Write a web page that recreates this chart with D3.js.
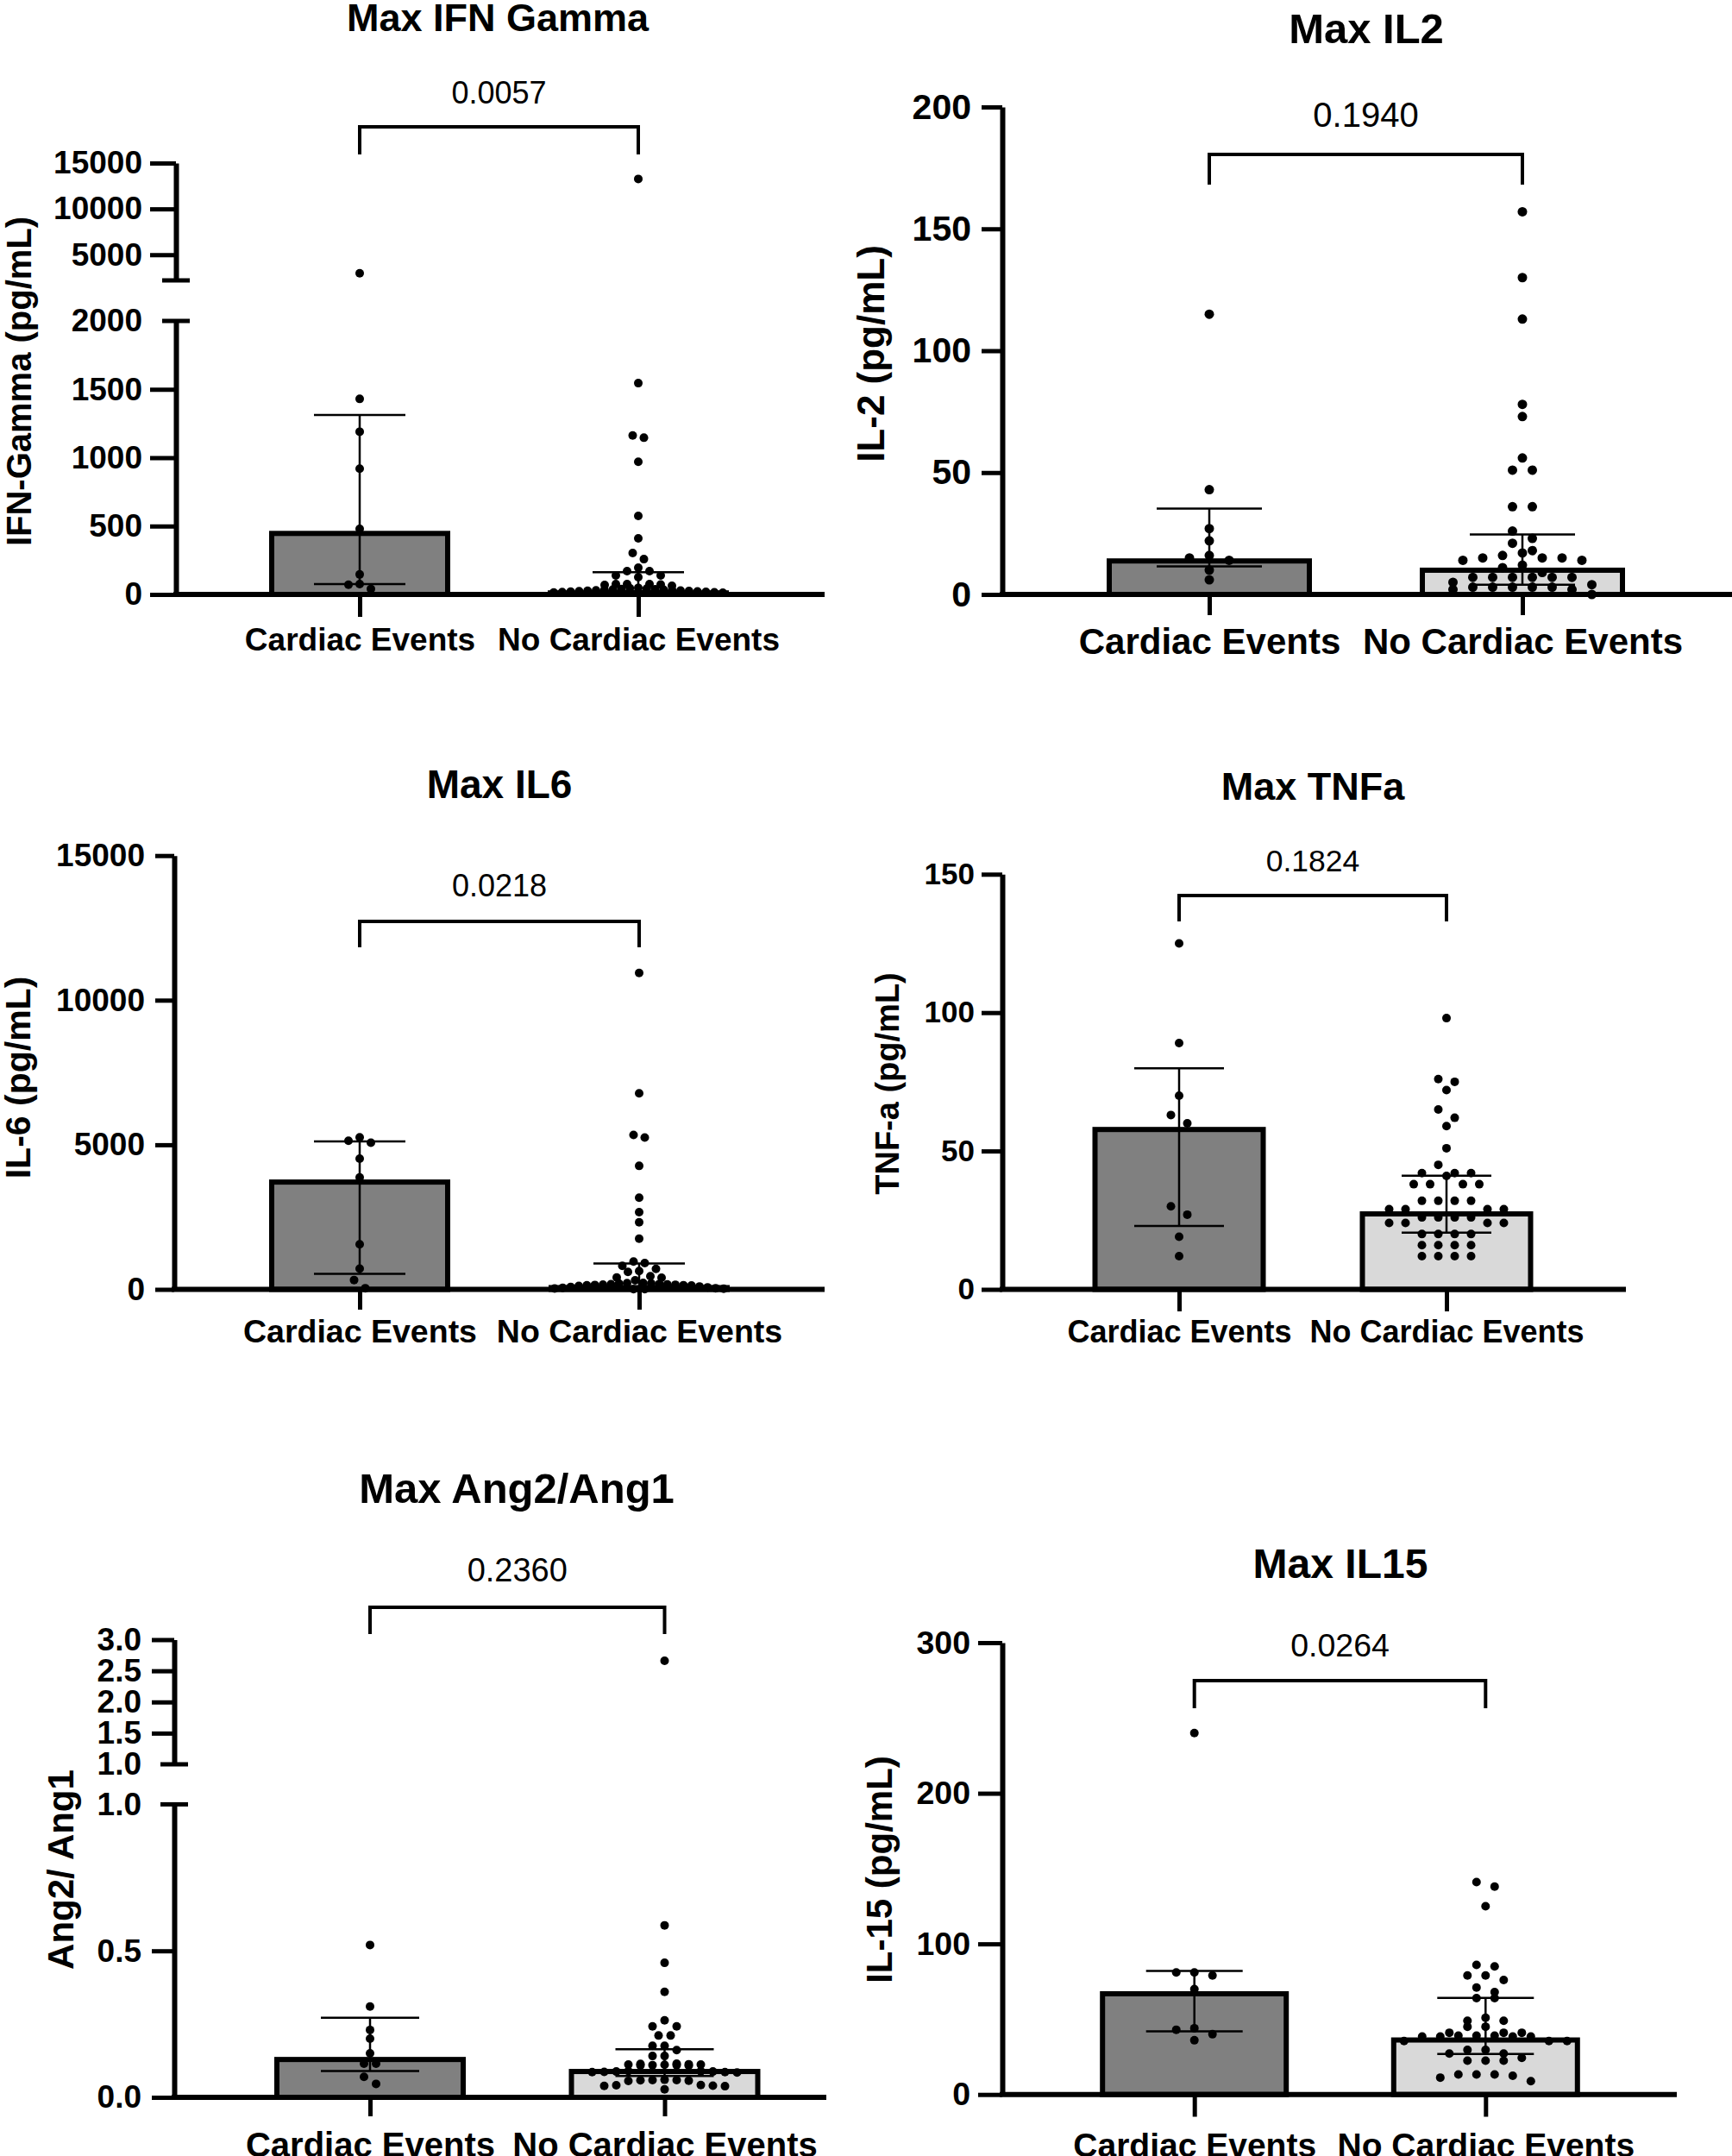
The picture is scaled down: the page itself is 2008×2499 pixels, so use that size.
<!DOCTYPE html>
<html>
<head>
<meta charset="utf-8">
<script src="https://cdn.jsdelivr.net/npm/d3@7"></script>
<style>
  body { margin: 0; background: #fff; }
</style>
</head>
<body>
<svg id="chart" width="2008" height="2499"></svg>
<script>
// categories shared by every panel
var categories = ["Cardiac Events", "No Cardiac Events"];

// IFN gamma
var ifnCardiac = [2970, 1430, 1190, 920, 480, 146, 76, 71, 40];
var ifnNoCardiac = [13270, 1545, 1162, 1146, 970, 574, 410, 303, 258, 195, 170, 170, 139, 139, 126,
  76, 76, 76, 72, 69, 63, 48, 45, 42, 40, 38, 36, 35, 33, 31, 30, 28, 27, 25, 24, 22, 20, 19, 17, 15, 14, 12];
var ifnBars = [465, 30];
var ifnLow = [75, 25];
var ifnHigh = [1313, 162];
var ifnTicksLow = [0, 500, 1000, 1500, 2000];
var ifnTicksHigh = [5000, 10000, 15000];

// IL2
var il2Cardiac = [115, 43, 27, 22, 16, 15, 14, 10, 6];
var il2NoCardiac = [157, 130, 113, 78, 73, 56, 51, 51, 36, 36, 26, 23, 21, 18, 17, 16, 15, 15, 15, 14,
  14, 12, 11, 9, 7, 7, 7, 7, 7, 7, 5, 4, 3, 3, 3, 3, 3, 2, 2, 0];
var il2Bars = [14.8, 11];
var il2Low = [11.5, 4];
var il2High = [35.2, 24.6];
var il2Ticks = [0, 50, 100, 150, 200];

// IL6
var il6Cardiac = [5260, 5140, 5070, 4520, 3870, 1560, 715, 324, 40];
var il6NoCardiac = [10943, 6780, 5340, 5250, 4270, 3168, 2670, 2321, 1754, 960, 910, 811, 710, 632, 602,
  453, 412, 403, 313, 224, 215, 205, 198, 190, 180, 172, 165, 160, 152, 145, 140, 135, 120, 100, 85, 70,
  55, 40, 30, 20, 10, 5];
var il6Bars = [3800, 150];
var il6Low = [536, 30];
var il6High = [5118, 894];
var il6Ticks = [0, 5000, 10000, 15000];

// TNF alpha
var tnfCardiac = [125, 89, 70, 63, 60, 30, 27, 19, 12];
var tnfNoCardiac = [98, 76, 75, 72, 65, 62, 59, 51, 45, 42, 42, 42, 41, 38, 38, 38, 38, 32, 32, 32, 32,
  29, 29, 29, 29, 26, 26, 26, 26, 24, 24, 24, 24, 20, 20, 20, 20, 16, 16, 16, 16, 12, 12, 12, 12];
var tnfBars = [58.7, 28.2];
var tnfLow = [22.9, 20.5];
var tnfHigh = [79.9, 41.1];
var tnfTicks = [0, 50, 100, 150];

// Ang2/Ang1
var angCardiac = [0.52, 0.31, 0.23, 0.2, 0.15, 0.115, 0.115, 0.07, 0.046];
var angNoCardiac = [2.66, 0.587, 0.459, 0.36, 0.263, 0.242, 0.242, 0.211, 0.211, 0.176, 0.176, 0.161,
  0.141, 0.141, 0.115, 0.114, 0.113, 0.112, 0.112, 0.111, 0.11, 0.11, 0.109, 0.108, 0.09, 0.089, 0.088,
  0.088, 0.087, 0.086, 0.086, 0.085, 0.06, 0.059, 0.059, 0.058, 0.057, 0.056, 0.042, 0.041, 0.04, 0.039,
  0.038, 0.027];
var angBars = [0.138, 0.097];
var angLow = [0.09, 0.073];
var angHigh = [0.272, 0.164];
var angTicksLow = [0, 0.5, 1];
var angTicksHigh = [1, 1.5, 2, 2.5, 3];

// IL15
var il15Cardiac = [240, 81, 81, 79, 70, 44, 43, 40, 36];
var il15NoCardiac = [141, 138, 125, 86, 85, 79, 79, 76, 71, 68, 64, 64, 51, 49, 49, 45, 45, 41, 41, 41,
  39, 39, 39, 38.5, 38.5, 38.5, 38.5, 35.5, 35.5, 35.5, 29.6, 29.6, 27.2, 27.2, 24.3, 22.5, 22.5, 22.5,
  13.3, 13.3, 13.3, 12.4, 11.2, 8.9];
var il15Bars = [68.6, 37.9];
var il15Low = [42, 26.9];
var il15High = [82, 64.2];
var il15Ticks = [0, 100, 200, 300];

var font = "'Liberation Sans', Arial, Helvetica, sans-serif";
var barFill = ["#808080", "#d9d9d9"];
var intFmt = d3.format("d");

var svg = d3.select("svg#chart");

// panel options built from the arrays above
var panels = [
  {
    title: "Max IFN Gamma", yTitle: "IFN-Gamma (pg/mL)", p: "0.0057",
    groups: [ifnCardiac, ifnNoCardiac], bars: ifnBars, lo: ifnLow, hi: ifnHigh,
    segments: [
      { domain: [0, 2000], range: [689, 372], ticks: ifnTicksLow, cap: 2000 },
      { domain: [2200, 15000], range: [325, 189], ticks: ifnTicksHigh, cap: 2200 }
    ],
    fmt: intFmt, axisX: 204, xEnd: 956, y0: 689, centers: [417, 740], barW: 210, capHalf: 53,
    titleX: 577, titleY: 36, titleSize: 45, pY: 120, pSize: 36, brY: 147, brBottom: 179,
    tickLen: 30, labelGap: 39, tickSize: 37, yTitleX: 22, yTitleY: 442, yTitleSize: 40,
    xTickEnd: 715, xLabelY: 754, xLabelSize: 37, r: 5, step: 13
  },
  {
    title: "Max IL2", yTitle: "IL-2 (pg/mL)", p: "0.1940",
    groups: [il2Cardiac, il2NoCardiac], bars: il2Bars, lo: il2Low, hi: il2High,
    segments: [{ domain: [0, 200], range: [689, 124], ticks: il2Ticks }],
    fmt: intFmt, axisX: 1162, xEnd: 2008, y0: 689, centers: [1402, 1765], barW: 238, capHalf: 61,
    titleX: 1584, titleY: 50, titleSize: 49, pY: 147, pSize: 40, brY: 179, brBottom: 214,
    tickLen: 24, labelGap: 36, tickSize: 41, yTitleX: 1010, yTitleY: 410, yTitleSize: 44,
    xTickEnd: 713, xLabelY: 758, xLabelSize: 42, r: 5.5, step: 23
  },
  {
    title: "Max IL6", yTitle: "IL-6 (pg/mL)", p: "0.0218",
    groups: [il6Cardiac, il6NoCardiac], bars: il6Bars, lo: il6Low, hi: il6High,
    segments: [{ domain: [0, 15000], range: [1494.5, 991.7], ticks: il6Ticks }],
    fmt: intFmt, axisX: 202, xEnd: 956, y0: 1494.5, centers: [417, 741], barW: 210, capHalf: 53,
    titleX: 579, titleY: 925, titleSize: 46, pY: 1039, pSize: 36, brY: 1068, brBottom: 1098,
    tickLen: 22, labelGap: 34, tickSize: 37, yTitleX: 21, yTitleY: 1249, yTitleSize: 41,
    xTickEnd: 1518, xLabelY: 1556, xLabelSize: 37.5, r: 5, step: 13
  },
  {
    title: "Max TNFa", yTitle: "TNF-a (pg/mL)", p: "0.1824",
    groups: [tnfCardiac, tnfNoCardiac], bars: tnfBars, lo: tnfLow, hi: tnfHigh,
    segments: [{ domain: [0, 150], range: [1494.5, 1013.3], ticks: tnfTicks }],
    fmt: intFmt, axisX: 1162, xEnd: 1885, y0: 1494.5, centers: [1367, 1677], barW: 201, capHalf: 52,
    titleX: 1522, titleY: 927, titleSize: 45, pY: 1010, pSize: 35.5, brY: 1038, brBottom: 1068,
    tickLen: 24, labelGap: 32, tickSize: 35, yTitleX: 1029, yTitleY: 1256, yTitleSize: 38,
    xTickEnd: 1520, xLabelY: 1556, xLabelSize: 36, r: 5, step: 19
  },
  {
    title: "Max Ang2/Ang1", yTitle: "Ang2/ Ang1", p: "0.2360",
    groups: [angCardiac, angNoCardiac], bars: angBars, lo: angLow, hi: angHigh,
    segments: [
      { domain: [0, 1], range: [2431, 2091.4], ticks: angTicksLow, cap: 1 },
      { domain: [1, 3], range: [2045, 1900.5], ticks: angTicksHigh, cap: 1 }
    ],
    fmt: d3.format(".1f"), axisX: 202, xEnd: 958, y0: 2431, centers: [429, 770.5], barW: 222, capHalf: 57,
    titleX: 599, titleY: 1742, titleSize: 49, pY: 1833, pSize: 38, brY: 1863, brBottom: 1894,
    tickLen: 26, labelGap: 38, tickSize: 37, yTitleX: 70, yTitleY: 2167, yTitleSize: 42,
    xTickEnd: 2453, xLabelY: 2500, xLabelSize: 40, r: 5, step: 14
  },
  {
    title: "Max IL15", yTitle: "IL-15 (pg/mL)", p: "0.0264",
    groups: [il15Cardiac, il15NoCardiac], bars: il15Bars, lo: il15Low, hi: il15High,
    segments: [{ domain: [0, 300], range: [2427.7, 1904], ticks: il15Ticks }],
    fmt: intFmt, axisX: 1162, xEnd: 1944, y0: 2427.7, centers: [1384.7, 1722.3], barW: 219, capHalf: 56,
    titleX: 1554, titleY: 1829, titleSize: 48, pY: 1920, pSize: 37.5, brY: 1948, brBottom: 1980,
    tickLen: 28, labelGap: 37, tickSize: 37.5, yTitleX: 1019, yTitleY: 2167, yTitleSize: 42,
    xTickEnd: 2453.5, xLabelY: 2500, xLabelSize: 39, r: 5, step: 21
  }
];

// piecewise y for broken axes
function makeY(segs) {
  var scales = segs.map(function (s) {
    return d3.scaleLinear().domain(s.domain).range(s.range);
  });
  var f = function (v) {
    for (var i = 0; i < segs.length; i++) {
      if (v <= segs[i].domain[1] || i === segs.length - 1) return scales[i](v);
    }
  };
  f.scales = scales;
  return f;
}

// rows of nearly equal values get spread sideways, centre first (prism-like scatter)
function layoutDots(values, yOf, cx, r, step, maxHalf) {
  var pts = values.map(function (v) { return { v: v, y: yOf(v) }; })
    .sort(function (a, b) { return a.y - b.y; });
  var rows = [], cur = null;
  pts.forEach(function (p) {
    if (!cur || p.y - cur[0].y > 2 * r) { cur = [p]; rows.push(cur); }
    else cur.push(p);
  });
  rows.forEach(function (row) {
    var n = row.length;
    var s = n > 1 ? Math.min(step, (2 * maxHalf) / (n - 1)) : 0;
    var slots = d3.range(n).map(function (i) { return (i - (n - 1) / 2) * s; })
      .sort(function (a, b) { return Math.abs(a) - Math.abs(b) || a - b; });
    row.forEach(function (p, i) { p.x = cx + slots[i]; });
  });
  return pts;
}

function drawPanel(p) {
  var g = svg.append("g").attr("font-family", font);
  var y = makeY(p.segments);
  var x = d3.scalePoint().domain(categories).range(p.centers);
  var sw = 6;

  // bars
  g.selectAll("rect.bar")
    .data(categories)
    .enter()
    .append("rect")
    .attr("class", "bar")
    .attr("x", function (c) { return x(c) - p.barW / 2 + sw / 2; })
    .attr("width", p.barW - sw)
    .attr("y", function (c, i) { return y(p.bars[i]) + sw / 2; })
    .attr("height", function (c, i) { return Math.max(0, p.y0 - y(p.bars[i]) - sw / 2); })
    .attr("fill", function (c, i) { return barFill[i]; })
    .attr("stroke", "#000")
    .attr("stroke-width", sw);

  // scatter dots
  categories.forEach(function (c, i) {
    var pts = layoutDots(p.groups[i], y, x(c), p.r, p.step, p.barW / 2 - p.r - 2);
    g.selectAll(null)
      .data(pts)
      .enter()
      .append("circle")
      .attr("cx", function (d) { return d.x; })
      .attr("cy", function (d) { return d.y; })
      .attr("r", p.r)
      .attr("fill", "#000");
  });

  // median + interquartile range
  categories.forEach(function (c, i) {
    var cx = x(c);
    var eg = g.append("g").attr("stroke", "#000").attr("stroke-width", 2.5);
    eg.append("line").attr("x1", cx).attr("x2", cx).attr("y1", y(p.lo[i])).attr("y2", y(p.hi[i]));
    [p.lo[i], p.hi[i]].forEach(function (v) {
      eg.append("line")
        .attr("x1", cx - p.capHalf).attr("x2", cx + p.capHalf)
        .attr("y1", y(v)).attr("y2", y(v));
    });
  });

  // y axis, one piece per segment
  p.segments.forEach(function (s, k) {
    var sc = y.scales[k];
    var ax = d3.axisLeft(sc)
      .tickValues(s.ticks)
      .tickFormat(p.fmt)
      .tickSize(p.tickLen)
      .tickSizeOuter(0)
      .tickPadding(p.labelGap - p.tickLen);
    var ag = g.append("g").attr("transform", "translate(" + p.axisX + ",0)").call(ax);
    ag.attr("font-family", font).attr("font-size", null);
    ag.select(".domain").attr("stroke-width", 6).attr("stroke", "#000");
    ag.selectAll(".tick line").attr("stroke-width", 5).attr("stroke", "#000");
    ag.selectAll(".tick text")
      .attr("font-size", p.tickSize)
      .attr("font-weight", "bold")
      .attr("fill", "#000");
    if (s.cap !== undefined) {
      ag.selectAll(".tick").filter(function (d) { return d === s.cap; }).select("line").remove();
      g.append("line")
        .attr("x1", p.axisX - 16).attr("x2", p.axisX + 16)
        .attr("y1", sc(s.cap)).attr("y2", sc(s.cap))
        .attr("stroke", "#000").attr("stroke-width", 5);
    }
  });

  // x axis
  g.append("line")
    .attr("x1", p.axisX - 3).attr("x2", p.xEnd)
    .attr("y1", p.y0).attr("y2", p.y0)
    .attr("stroke", "#000").attr("stroke-width", 6);
  var xa = g.append("g")
    .attr("transform", "translate(0," + p.y0 + ")")
    .call(d3.axisBottom(x).tickSize(p.xTickEnd - p.y0).tickSizeOuter(0));
  xa.attr("font-family", font).attr("font-size", null);
  xa.select(".domain").remove();
  xa.selectAll(".tick line").attr("stroke-width", 5).attr("stroke", "#000");
  xa.selectAll(".tick text")
    .attr("y", p.xLabelY - p.y0)
    .attr("dy", 0)
    .attr("font-size", p.xLabelSize)
    .attr("font-weight", "bold")
    .attr("fill", "#000");

  // comparison bracket and p value
  var x1 = x(categories[0]), x2 = x(categories[1]);
  g.append("path")
    .attr("d", "M" + x1 + "," + p.brBottom + "V" + p.brY + "H" + x2 + "V" + p.brBottom)
    .attr("fill", "none")
    .attr("stroke", "#000")
    .attr("stroke-width", 4);
  g.append("text")
    .attr("x", (x1 + x2) / 2)
    .attr("y", p.pY)
    .attr("text-anchor", "middle")
    .attr("font-size", p.pSize)
    .text(p.p);

  // titles
  g.append("text")
    .attr("x", p.titleX)
    .attr("y", p.titleY)
    .attr("text-anchor", "middle")
    .attr("font-size", p.titleSize)
    .attr("font-weight", "bold")
    .text(p.title);
  g.append("text")
    .attr("transform", "translate(" + p.yTitleX + "," + p.yTitleY + ") rotate(-90)")
    .attr("text-anchor", "middle")
    .attr("dy", "0.35em")
    .attr("font-size", p.yTitleSize)
    .attr("font-weight", "bold")
    .text(p.yTitle);
}

panels.forEach(drawPanel);
</script>
</body>
</html>
